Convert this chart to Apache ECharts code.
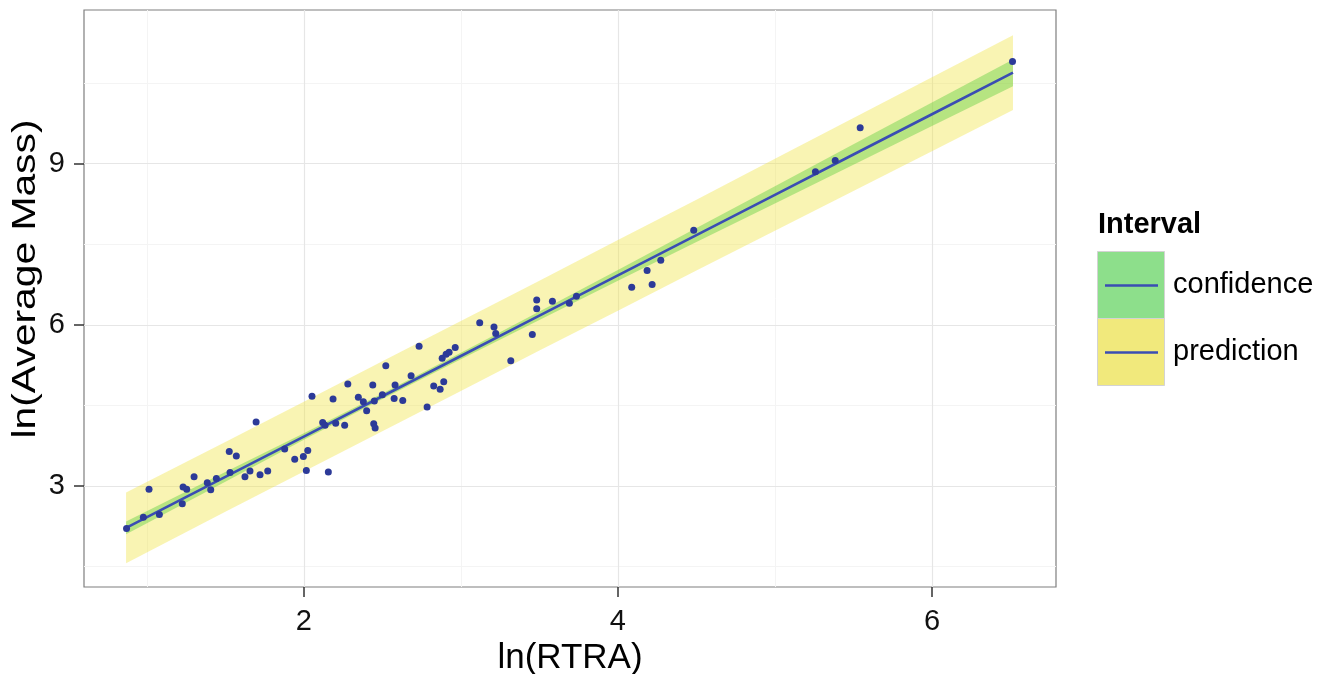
<!DOCTYPE html>
<html>
<head>
<meta charset="utf-8">
<script src="https://cdn.jsdelivr.net/npm/echarts@6/dist/echarts.min.js"></script>
<style>
html,body{margin:0;padding:0;background:#fff;}
#chart{width:1326px;height:674px;}
</style>
</head>
<body>
<div id="chart"></div>
<script>
// ---- data ----
const pointsX = [0.871,0.978,1.014,1.080,1.226,1.231,1.254,1.301,1.385,1.407,1.443,1.525,1.530,1.570,1.625,1.657,1.696,1.721,1.770,1.878,
  1.942,1.997,2.025,2.016,2.052,2.120,2.135,2.156,2.186,2.203,2.280,2.260,2.347,2.379,2.400,2.439,2.449,2.445,2.454,2.500,
  2.522,2.575,2.581,2.630,2.683,2.734,2.785,2.827,2.868,2.891,2.881,2.906,2.925,2.964,3.120,3.211,3.222,3.318,3.455,3.483,
  3.483,3.583,3.691,3.736,4.088,4.186,4.218,4.273,4.483,5.258,5.384,5.543,6.513];
const pointsY = [2.21,2.42,2.94,2.47,2.67,2.98,2.94,3.17,3.06,2.93,3.14,3.64,3.25,3.56,3.17,3.28,4.19,3.21,3.28,3.69,
  3.50,3.55,3.66,3.29,4.67,4.18,4.13,3.26,4.62,4.17,4.90,4.13,4.65,4.57,4.40,4.88,4.58,4.16,4.08,4.70,
  5.24,4.63,4.88,4.59,5.05,5.60,4.47,4.86,4.80,4.94,5.38,5.45,5.49,5.58,6.04,5.96,5.84,5.33,5.82,6.46,
  6.30,6.44,6.40,6.53,6.70,7.01,6.75,7.20,7.76,8.85,9.06,9.67,10.90];

const bandX    = [0.868,1.5,2,2.5,3,3.5,4,4.5,5,5.5,6,6.516];
const fitY     = [2.222,3.17,3.92,4.67,5.42,6.17,6.92,7.67,8.42,9.17,9.92,10.694];
const confLow  = [2.10,3.08,3.86,4.62,5.36,6.09,6.82,7.54,8.26,8.98,9.70,10.44];
const confHigh = [2.34,3.26,3.98,4.72,5.48,6.25,7.02,7.80,8.58,9.36,10.14,10.94];
const predLow  = [1.56,2.52,3.27,4.02,4.77,5.52,6.26,7.01,7.75,8.49,9.23,10.00];
const predHigh = [2.88,3.82,4.57,5.32,6.07,6.82,7.58,8.33,9.09,9.85,10.61,11.39];

const xTicks = [2,4,6];
const yTicks = [3,6,9];
const xMinor = [1,3,5];
const yMinor = [1.5,4.5,7.5,10.5];
const xTitle = 'ln(RTRA)';
const yTitle = 'ln(Average Mass)';
const legendTitle = 'Interval';
const legendLabels = ['confidence','prediction'];

// ---- chart ----
const chart = echarts.init(document.getElementById('chart'));
const FONT = '"Liberation Sans", Arial, Helvetica, sans-serif';

function bandSeries(name, low, high, fill, z) {
  return {
    name: name, type: 'custom', z: z, silent: true,
    data: bandX.map((x, i) => [x, low[i], high[i]]),
    encode: {x: 0, y: [1, 2]},
    renderItem: function (params, api) {
      if (params.dataIndex !== 0) return null;
      const pts = [];
      for (let i = 0; i < bandX.length; i++) pts.push(api.coord([bandX[i], high[i]]));
      for (let i = bandX.length - 1; i >= 0; i--) pts.push(api.coord([bandX[i], low[i]]));
      return {type: 'polygon', shape: {points: pts}, style: {fill: fill}};
    }
  };
}

const gridLines = [];
const minorStyle = {color: '#f4f4f4', width: 1, type: 'solid'};
const majorStyle = {color: '#e6e6e6', width: 1.2, type: 'solid'};
xMinor.forEach(v => gridLines.push({xAxis: v, lineStyle: minorStyle}));
yMinor.forEach(v => gridLines.push({yAxis: v, lineStyle: minorStyle}));
xTicks.forEach(v => gridLines.push({xAxis: v, lineStyle: majorStyle}));
yTicks.forEach(v => gridLines.push({yAxis: v, lineStyle: majorStyle}));

const option = {
  animation: false,
  backgroundColor: '#ffffff',
  grid: {left: 84, top: 10, width: 972, height: 577, containLabel: false, outerBoundsMode: 'none',
    show: true, borderColor: '#7f7f7f', borderWidth: 1.2, backgroundColor: 'transparent'},
  xAxis: {
    type: 'value', min: 0.6, max: 6.79,
    name: xTitle, nameLocation: 'middle', nameGap: 47,
    nameTextStyle: {fontFamily: FONT, fontSize: 35, color: '#000'},
    axisLine: {show: false},
    axisTick: {show: true, customValues: xTicks, length: 10, lineStyle: {color: '#333', width: 1.5}},
    axisLabel: {customValues: xTicks, fontFamily: FONT, fontSize: 29, color: '#111', margin: 20},
    splitLine: {show: false}
  },
  yAxis: {
    type: 'value', min: 1.12, max: 11.86,
    axisLine: {show: false},
    axisTick: {show: true, customValues: yTicks, length: 10, lineStyle: {color: '#333', width: 1.5}},
    axisLabel: {customValues: yTicks, fontFamily: FONT, fontSize: 29, color: '#111', margin: 19},
    splitLine: {show: false}
  },
  series: [
    {
      type: 'line', data: [], z: 0, silent: true,
      markLine: {z: 0, silent: true, symbol: 'none', label: {show: false}, animation: false, data: gridLines}
    },
    bandSeries('prediction', predLow, predHigh, 'rgba(240,228,66,0.4)', 1),
    bandSeries('confidence', confLow, confHigh, 'rgba(90,205,60,0.42)', 2),
    {
      type: 'line', z: 3, silent: true, symbol: 'none',
      data: bandX.map((x, i) => [x, fitY[i]]),
      lineStyle: {color: '#3a4db3', width: 2.6}
    },
    {
      type: 'scatter', z: 4, silent: true, symbol: 'circle', symbolSize: 7,
      data: pointsX.map((x, i) => [x, pointsY[i]]),
      itemStyle: {color: '#2c3a98', opacity: 1}
    }
  ],
  graphic: [
    {type: 'text', x: 26, y: 279, rotation: Math.PI / 2, scaleX: 1.2, scaleY: 1,
      style: {text: yTitle, font: '34px ' + FONT, fill: '#000', textAlign: 'center', textVerticalAlign: 'middle'}},
    {type: 'text', left: 1098, top: 210, style: {text: legendTitle, font: 'bold 29px ' + FONT, fill: '#000'}},
    {type: 'rect', shape: {x: 1097.5, y: 251.5, width: 67, height: 67}, style: {fill: '#8ddf8b', stroke: '#d3d3d3', lineWidth: 1}},
    {type: 'rect', shape: {x: 1097.5, y: 318.5, width: 67, height: 67}, style: {fill: '#f1e97c', stroke: '#d3d3d3', lineWidth: 1}},
    {type: 'line', shape: {x1: 1105, y1: 285.5, x2: 1158, y2: 285.5}, style: {stroke: '#3a4db3', lineWidth: 2.6}},
    {type: 'line', shape: {x1: 1105, y1: 352.5, x2: 1158, y2: 352.5}, style: {stroke: '#3a4db3', lineWidth: 2.6}},
    {type: 'text', left: 1173, top: 270, style: {text: legendLabels[0], font: '29px ' + FONT, fill: '#000'}},
    {type: 'text', left: 1173, top: 337, style: {text: legendLabels[1], font: '29px ' + FONT, fill: '#000'}}
  ]
};
chart.setOption(option);
</script>
</body>
</html>
